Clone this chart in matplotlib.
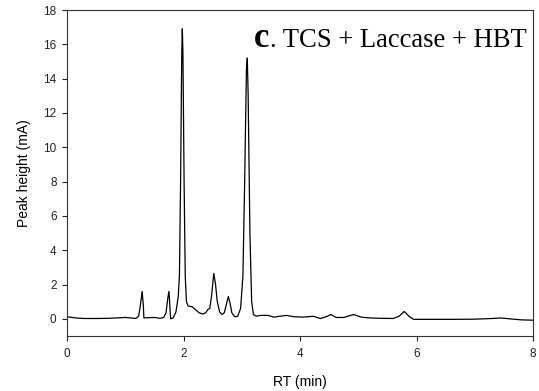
import numpy as np
import matplotlib.pyplot as plt

# digitised chromatogram (RT in min, peak height in mA)
rt = [0.00, 0.05, 0.15, 0.30, 0.50, 0.70, 0.90, 1.00, 1.10, 1.18,
      1.23, 1.26, 1.29, 1.31, 1.32, 1.40, 1.50, 1.60, 1.66, 1.70,
      1.73, 1.75, 1.77, 1.78, 1.82, 1.87, 1.91, 1.93, 1.95, 1.97,
      1.98, 1.99, 2.01, 2.03, 2.05, 2.08, 2.15, 2.20, 2.27, 2.33,
      2.38, 2.42, 2.45, 2.48, 2.52, 2.55, 2.58, 2.62, 2.66, 2.70,
      2.74, 2.77, 2.80, 2.83, 2.88, 2.93, 2.98, 3.02, 3.05, 3.08,
      3.095, 3.11, 3.14, 3.17, 3.20, 3.25, 3.32, 3.45, 3.55, 3.65,
      3.77, 3.90, 4.05, 4.23, 4.35, 4.45, 4.53, 4.62, 4.75, 4.92,
      5.05, 5.20, 5.40, 5.60, 5.70, 5.79, 5.87, 5.95, 6.20, 6.60,
      7.00, 7.30, 7.45, 7.60, 7.80, 8.00]
height = [0.12, 0.10, 0.05, 0.02, 0.02, 0.03, 0.06, 0.08, 0.05, 0.02,
          0.15, 0.80, 1.60, 0.80, 0.05, 0.07, 0.08, 0.03, 0.08, 0.35,
          1.20, 1.60, 0.50, 0.00, 0.05, 0.40, 1.30, 2.50, 8.00, 15.5,
          16.9, 15.5, 8.00, 2.50, 1.00, 0.75, 0.70, 0.55, 0.35, 0.28,
          0.35, 0.55, 0.60, 1.30, 2.65, 2.00, 1.00, 0.40, 0.25, 0.35,
          0.90, 1.30, 0.90, 0.35, 0.12, 0.15, 0.60, 2.50, 8.00, 14.5,
          15.2, 13.0, 5.00, 1.00, 0.25, 0.15, 0.20, 0.20, 0.10, 0.15,
          0.20, 0.12, 0.10, 0.15, 0.02, 0.12, 0.25, 0.08, 0.08, 0.25,
          0.10, 0.05, 0.03, 0.02, 0.15, 0.43, 0.15, -0.03, -0.03, -0.03,
          -0.02, 0.02, 0.05, 0.00, -0.06, -0.08]

x_ticks = [0, 2, 4, 6, 8]
y_ticks = [0, 2, 4, 6, 8, 10, 12, 14, 16, 18]

plt.rcParams['font.family'] = ['Liberation Sans', 'DejaVu Sans']

fig = plt.figure(figsize=(5.39, 3.91), dpi=100)
ax = fig.add_axes([0.1243, 0.1407, 0.8646, 0.8337])

ax.plot(rt, height, color='black', linewidth=0.9)

ax.set_xlim(0, 8)
ax.set_ylim(-1, 18)
ax.set_xticks(x_ticks)
ax.set_yticks(y_ticks)
ax.tick_params(direction='out', length=3.5, width=0.8, labelsize=8.5,
               colors='#222222')
ax.tick_params(axis='x', pad=5)
ax.tick_params(axis='y', pad=4)
for s in ax.spines.values():
    s.set_color('#333333')
    s.set_linewidth(0.8)

ax.set_xlabel('RT (min)', fontsize=10, labelpad=11)
ax.set_ylabel('Peak height (mA)', fontsize=10, labelpad=9)

ax.text(0.401, 0.887, 'c', transform=ax.transAxes, fontsize=25,
        fontweight='bold', family='Liberation Serif', va='baseline')
ax.text(0.435, 0.887, '. TCS + Laccase + HBT', transform=ax.transAxes,
        fontsize=19.2, family='Liberation Serif', va='baseline')

fig.savefig('out.png', dpi=100)
